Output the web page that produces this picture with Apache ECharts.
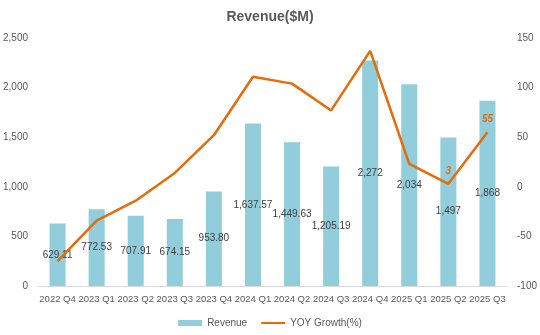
<!DOCTYPE html>
<html>
<head>
<meta charset="utf-8">
<script src="https://cdn.jsdelivr.net/npm/echarts@6/dist/echarts.min.js"></script>
<style>
  html, body { margin: 0; padding: 0; background: #fff; }
  #chart { width: 540px; height: 335px; }
</style>
</head>
<body>
<div id="chart"></div>
<script>
  var quarters = ['2022 Q4', '2023 Q1', '2023 Q2', '2023 Q3', '2023 Q4', '2024 Q1', '2024 Q2',
    '2024 Q3', '2024 Q4', '2025 Q1', '2025 Q2', '2025 Q3'];
  var revenue = [629.11, 772.53, 707.91, 674.15, 953.80, 1637.57, 1449.63, 1205.19, 2272, 2034, 1497, 1868];
  var revenueLabels = ['629.11', '772.53', '707.91', '674.15', '953.80', '1,637.57', '1,449.63',
    '1,205.19', '2,272', '2,034', '1,497', '1,868'];
  var yoyGrowth = [-75, -34, -14, 14, 52, 111, 104, 77, 137, 23, 3, 55];
  var yoyLabels = ['', '', '', '', '', '', '', '', '', '', '3', '55'];

  var font = 'Liberation Sans, Arial, sans-serif';
  var chart = echarts.init(document.getElementById('chart'));
  var option = {
    animation: false,
    textStyle: { fontFamily: font },
    title: {
      text: 'Revenue($M)',
      left: 'center',
      top: 5,
      textStyle: { fontSize: 14, fontWeight: 'bold', color: '#595959', fontFamily: font }
    },
    legend: {
      bottom: 2,
      itemGap: 14,
      itemWidth: 24,
      itemHeight: 6,
      textStyle: { fontSize: 10, color: '#595959', fontFamily: font },
      data: [
        { name: 'Revenue', icon: 'rect' },
        {
          name: 'YOY Growth(%)',
          icon: 'path://M0,0 L0,0 M0,2 L30,2 L30,4.6 L0,4.6 Z M30,6.6 L30,6.6',
          itemStyle: { color: '#E46C0A', opacity: 1 }
        }
      ]
    },
    grid: { left: 37, right: 33, top: 38, bottom: 49 },
    xAxis: {
      type: 'category',
      data: quarters,
      axisLine: { lineStyle: { color: '#d9d9d9' } },
      axisTick: { show: false },
      axisLabel: { interval: 0, fontSize: 9.5, color: '#595959', margin: 8 }
    },
    yAxis: [
      {
        type: 'value',
        min: 0, max: 2500, interval: 500,
        splitLine: { show: false },
        axisLabel: {
          fontSize: 10, color: '#595959', margin: 10,
          formatter: function (v) { return v.toLocaleString('en-US'); }
        }
      },
      {
        type: 'value',
        min: -100, max: 150, interval: 50,
        splitLine: { show: false },
        axisLabel: { fontSize: 10, color: '#595959', margin: 10 }
      }
    ],
    series: [
      {
        name: 'Revenue',
        type: 'bar',
        data: revenue,
        barWidth: '41%',
        itemStyle: { color: '#92CDDC' },
        label: {
          show: true,
          position: 'inside',
          color: '#404040',
          fontSize: 10,
          formatter: function (p) { return revenueLabels[p.dataIndex]; }
        }
      },
      {
        name: 'YOY Growth(%)',
        type: 'line',
        yAxisIndex: 1,
        data: yoyGrowth,
        symbol: 'circle',
        symbolSize: 0,
        showSymbol: true,
        lineStyle: { color: '#E46C0A', width: 2.5 },
        itemStyle: { color: '#E46C0A' },
        label: {
          show: true,
          position: 'top',
          distance: 8,
          color: '#E46C0A',
          fontSize: 10,
          fontWeight: 'bold',
          fontStyle: 'italic',
          formatter: function (p) { return yoyLabels[p.dataIndex]; }
        }
      }
    ]
  };
  chart.setOption(option);
</script>
</body>
</html>
